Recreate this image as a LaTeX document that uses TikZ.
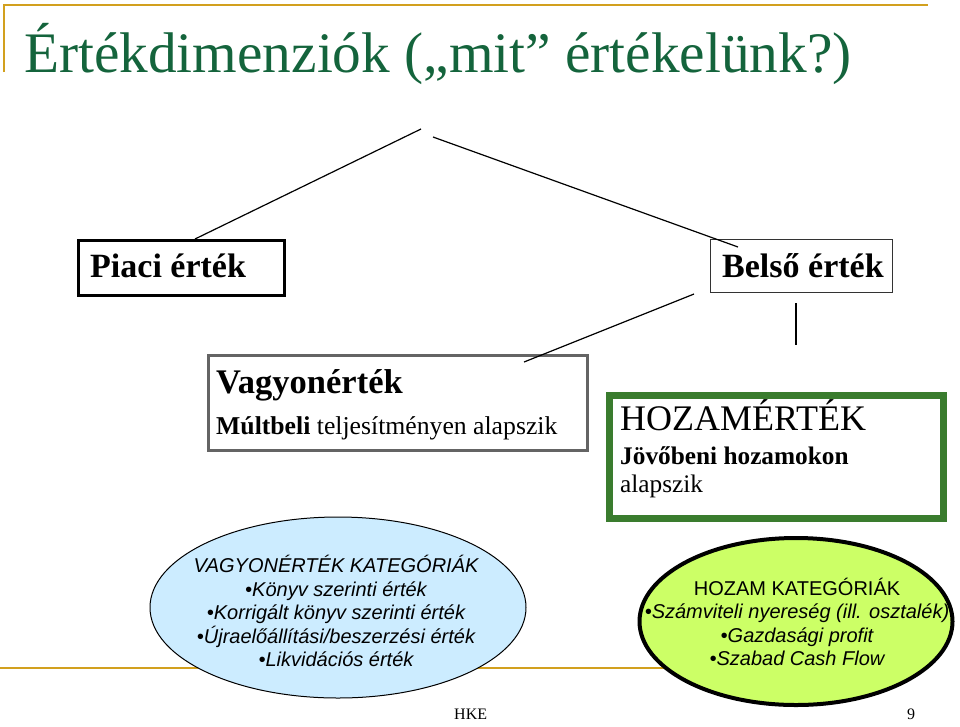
\documentclass[tikz,border=0pt]{standalone}
\usepackage{fontspec}
\setmainfont{Liberation Serif}
\setsansfont{Liberation Sans}
\usetikzlibrary{shapes.geometric}
\definecolor{gold}{RGB}{210,160,30}
\definecolor{titlegreen}{RGB}{20,100,60}
\definecolor{boxgray}{RGB}{100,100,100}
\definecolor{boxgreen}{RGB}{58,124,46}
\definecolor{lightblue}{RGB}{204,236,255}
\definecolor{lightgreen}{RGB}{204,255,102}
\tikzset{
  rule/.style={draw=gold, line width=2.6pt},
  conn/.style={draw=black, line width=1.2pt},
  txt/.style={anchor=base west, inner sep=0pt},
  ctxt/.style={inner sep=0pt, align=center, font=\fontsize{20}{23.5}\selectfont\sffamily\itshape},
  boxbase/.style={draw, rectangle, anchor=north west, inner sep=0pt}
}
\begin{document}
\begin{tikzpicture}[x=1pt,y=-1pt]
\useasboundingbox (0,0) rectangle (960,726);
% frame rules
\coordinate (rtl) at (4,5);
\coordinate (rtr) at (928,5);
\coordinate (rvb) at (4,72);
\coordinate (rbl) at (0,668);
\coordinate (rbr) at (928,668);
\draw[rule] (rvb) -- (rtl) -- (rtr);
\draw[rule] (rbl) -- (rbr);
% title
\node[txt, text=titlegreen, font=\fontsize{57.3}{60}\selectfont] (title) at (24,72) {Értékdimenziók („mit” értékelünk?)};
% boxes
\node[boxbase, line width=3pt, minimum width=206, minimum height=55] (piaci) at (77,238.5) {};
\node[txt, font=\fontsize{34}{40}\selectfont\bfseries] (piacit) at (90,277) {Piaci érték};
\node[boxbase, line width=1pt, draw=black!80, minimum width=182, minimum height=53] (belso) at (709.5,238.5) {};
\node[txt, font=\fontsize{34}{40}\selectfont\bfseries] (belsot) at (722,277) {Belső érték};
\node[boxbase, line width=3pt, draw=boxgray, minimum width=379, minimum height=95] (vagyon) at (206.5,353.5) {};
\node[txt, font=\fontsize{34.5}{40}\selectfont\bfseries] (vagyont) at (216,393) {Vagyonérték};
\node[txt, font=\fontsize{25.7}{28}\selectfont] (vagyons) at (216,434) {\textbf{Múltbeli} teljesítményen alapszik};
\node[boxbase, line width=7pt, draw=boxgreen, minimum width=334, minimum height=123] (hozam) at (606,392) {};
\node[txt, font=\fontsize{36}{40}\selectfont] (hozamt) at (620,430) {HOZAMÉRTÉK};
\node[txt, font=\fontsize{25.3}{28}\selectfont\bfseries] (hozams1) at (620,464) {Jövőbeni hozamokon};
\node[txt, font=\fontsize{25.3}{28}\selectfont] (hozams2) at (620,492) {alapszik};
% connectors
\coordinate (rootL) at (421,129);
\coordinate (rootR) at (433,137);
\coordinate (piaciTop) at (195,239);
\coordinate (belsoIn) at (738,247);
\coordinate (belsoBL) at (694,294);
\coordinate (vagyonIn) at (524,362);
\coordinate (belsoB1) at (796,303);
\coordinate (belsoB2) at (796,345);
\draw[conn] (rootL) -- (piaciTop);
\draw[conn] (rootR) -- (belsoIn);
\draw[conn] (belsoBL) -- (vagyonIn);
\draw[conn] (belsoB1) -- (belsoB2);
% ellipses
\node[draw, ellipse, fill=lightblue, line width=1pt, minimum width=376, minimum height=181, inner sep=0pt] (vkat) at (338,607.5) {};
\node[ctxt] (vkatt) at (336,611) {VAGYONÉRTÉK KATEGÓRIÁK\\ •Könyv szerinti érték\\ •Korrigált könyv szerinti érték\\ •Újraelőállítási/beszerzési érték\\ •Likvidációs érték};
\node[draw, ellipse, fill=lightgreen, line width=4pt, minimum width=313, minimum height=167, inner sep=0pt] (hkat) at (796,621.5) {};
\node[ctxt] (hkatt) at (797,622) {{\upshape HOZAM KATEGÓRIÁK}\\ •Számviteli nyereség (ill. osztalék)\\ •Gazdasági profit\\ •Szabad Cash Flow};
% footer
\node[txt, font=\fontsize{16}{18}\selectfont] (hke) at (454,719) {HKE};
\node[txt, font=\fontsize{16}{18}\selectfont] (pagenum) at (907,719) {9};
\end{tikzpicture}
\end{document}
